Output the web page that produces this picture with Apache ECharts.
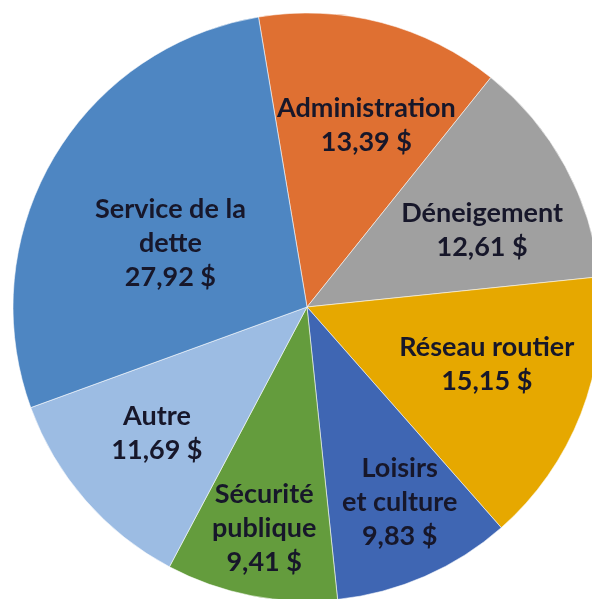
<!DOCTYPE html>
<html>
<head>
<meta charset="utf-8">
<script src="https://cdn.jsdelivr.net/npm/echarts@6/dist/echarts.min.js"></script>
<style>
  html, body { margin: 0; padding: 0; background: #fff; }
  #pie-chart { width: 592px; height: 599px; }
</style>
</head>
<body>
<div id="pie-chart"></div>
<script>
// postes budgétaires, dans l'ordre horaire depuis le haut
const categories = ['Administration', 'Déneigement', 'Réseau routier', 'Loisirs\net culture',
  'Sécurité\npublique', 'Autre', 'Service de la\ndette'];
const values = [13.39, 12.61, 15.15, 9.83, 9.41, 11.69, 27.92];
const colors = ['#DF7032', '#A0A0A0', '#E6A800', '#3F66B3', '#649C3D', '#9CBCE3', '#4E86C2'];

let myChart = echarts.init(document.getElementById('pie-chart'));

const CENTER = [307, 307];
const R = 294;

function fmt(params) {
  return params.name + '\n' + params.value.toFixed(2).replace('.', ',') + ' $';
}

const labelStyle = {
  position: 'inside',
  formatter: fmt,
  fontFamily: 'Lato',
  fontWeight: 'bold',
  fontSize: 27,
  lineHeight: 34,
  color: '#17172a',
  align: 'center'
};

// anneau (rayon intérieur) utilisé pour placer chaque étiquette :
// l'étiquette tombe au milieu de [inner, R]; petit décalage en plus
const labelInner = [92, 92, 84, 132, 150, 98, 0];
const labelShift = [[10, 8], [3, 17], [1, -13], [6, -3], [0, 0], [0, -4], [-7, 12]];

function pieBase() {
  return {
    type: 'pie',
    center: CENTER,
    startAngle: 99.5,
    clockwise: true,
    avoidLabelOverlap: false,
    labelLine: { show: false }
  };
}

let series = [];

// les secteurs colorés
series.push(Object.assign(pieBase(), {
  radius: [0, R],
  label: { show: false },
  itemStyle: { borderColor: 'rgba(255,255,255,0.55)', borderWidth: 1 },
  data: categories.map((c, i) => ({
    name: c,
    value: values[i],
    itemStyle: { color: colors[i] }
  }))
}));

// couches transparentes, une par anneau, qui ne portent que les étiquettes
[...new Set(labelInner)].forEach(inner => {
  series.push(Object.assign(pieBase(), {
    silent: true,
    radius: [inner, R],
    label: labelStyle,
    itemStyle: { color: 'rgba(0,0,0,0)', borderWidth: 0 },
    data: categories.map((c, i) => ({
      name: c,
      value: values[i],
      label: { show: labelInner[i] === inner, offset: labelShift[i] }
    }))
  }));
});

let option = {
  backgroundColor: '#fff',
  animation: false,
  series: series
};
myChart.setOption(option);
</script>
</body>
</html>
